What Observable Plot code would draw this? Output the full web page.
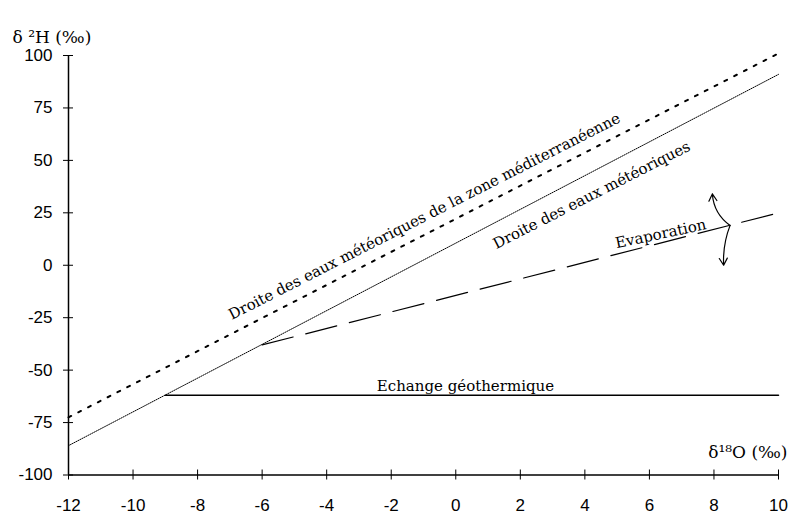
<!DOCTYPE html>
<html>
<head>
<meta charset="utf-8">
<script src="https://cdn.jsdelivr.net/npm/d3@7"></script>
<script src="https://cdn.jsdelivr.net/npm/@observablehq/plot@0.6"></script>
<style>
  html, body { margin: 0; padding: 0; background: #fff; }
  #chart svg { display: block; }
</style>
</head>
<body>
<div id="chart"></div>
<script>
// ---- data ----
const xTicks = [-12, -10, -8, -6, -4, -2, 0, 2, 4, 6, 8, 10];
const yTicks = [-100, -75, -50, -25, 0, 25, 50, 75, 100];

// Global meteoric water line (δ2H ≈ 8·δ18O + 10)
const gmwlX = [-12, 10];
const gmwlY = [-86, 91];
// Mediterranean meteoric water line
const medX = [-12, 10];
const medY = [-72.5, 101];
// Evaporation line
const evapX = [-6, 10];
const evapY = [-38, 25];
// Geothermal exchange line
const geoX = [-9, 10];
const geoY = [-62, -62];
// Curved double arrow across the evaporation line
const arrowFrom = [8.5, 19];
const arrowTops = [[7.95, 34], [8.3, 0]];

// labels
const labelText = [
  "Droite des eaux météoriques de la zone méditerranéenne",
  "Droite des eaux météoriques",
  "Evaporation",
  "Echange géothermique"
];
const labelX = [-0.97, 4.21, 6.35, 0.3];
const labelY = [14.2, 44.4, 10.6, -62];
const labelDy = [-19, 23, -9, -9];
const labelRotate = [-27, -27, -12, 0];

const yTitle = "δ ²H (‰)";
const xTitle = "δ¹⁸O (‰)";

// ---- build tables ----
const toPts = (xs, ys) => xs.map((x, i) => ({x, y: ys[i]}));
const gmwl = toPts(gmwlX, gmwlY);
const med = toPts(medX, medY);
const evap = toPts(evapX, evapY);
const geo = toPts(geoX, geoY);
const labels = labelText.map((t, i) => ({t, x: labelX[i], y: labelY[i], dy: labelDy[i], r: labelRotate[i]}));

const serif = "'DejaVu Serif', serif";
const sans = "'Liberation Sans', Arial, sans-serif";

const chart = Plot.plot({
  width: 789,
  height: 515,
  marginLeft: 68,
  marginRight: 11,
  marginTop: 55,
  marginBottom: 40.5,
  style: {background: "#fff", color: "#000"},
  x: {domain: [-12, 10], axis: null},
  y: {domain: [-100, 100], axis: null},
  marks: [
    // axes
    Plot.axisX(xTicks, {anchor: "bottom", tickSize: 10, dy: -5, tickPadding: 19, fontSize: 17, fontFamily: sans, tickFormat: d => String(d), label: null}),
    Plot.axisY(yTicks, {anchor: "left", tickSize: 10, dx: 5, tickPadding: 11, fontSize: 17, fontFamily: sans, tickFormat: d => String(d), label: null}),
    Plot.ruleX([-12], {stroke: "#000", strokeWidth: 1.5}),
    Plot.ruleY([-100], {stroke: "#000", strokeWidth: 1.5}),

    // lines
    Plot.line(med, {x: "x", y: "y", stroke: "#000", strokeWidth: 2, strokeDasharray: "3,8"}),
    Plot.line(gmwl, {x: "x", y: "y", stroke: "#000", strokeWidth: 1, strokeDasharray: "1,1.2"}),
    Plot.line(evap, {x: "x", y: "y", stroke: "#000", strokeWidth: 1.2, strokeDasharray: "32,13"}),
    Plot.line(geo, {x: "x", y: "y", stroke: "#000", strokeWidth: 1.5}),

    // curved double arrow
    Plot.arrow([arrowTops[0]], {x1: () => arrowFrom[0], y1: () => arrowFrom[1], x2: d => d[0], y2: d => d[1], bend: 25, stroke: "#000", strokeWidth: 1.2, headLength: 10}),
    Plot.arrow([arrowTops[1]], {x1: () => arrowFrom[0], y1: () => arrowFrom[1], x2: d => d[0], y2: d => d[1], bend: -12, stroke: "#000", strokeWidth: 1.2, headLength: 10}),

    // line labels
    Plot.text(labels, {x: "x", y: "y", text: "t", rotate: "r", fontFamily: serif, fontSize: 15, fill: "#000",
      render: (index, scales, values, dims, ctx, next) => {
        const g = next(index, scales, values, dims, ctx);
        d3.select(g).selectAll("text").each(function(_, j) {
          const i = index[j];
          const el = d3.select(this);
          const t = el.attr("transform");
          el.attr("transform", `translate(0,${labels[i].dy}) ` + t);
        });
        return g;
      }
    }),

    // axis titles
    Plot.text([yTitle], {frameAnchor: "top-left", textAnchor: "start", dx: -56, dy: -25, fontFamily: serif, fontSize: 17, fill: "#000"}),
    Plot.text([xTitle], {frameAnchor: "bottom-right", textAnchor: "end", dx: 9, dy: -17, fontFamily: serif, fontSize: 17, fill: "#000"})
  ]
});
document.getElementById("chart").appendChild(chart);
</script>
</body>
</html>
